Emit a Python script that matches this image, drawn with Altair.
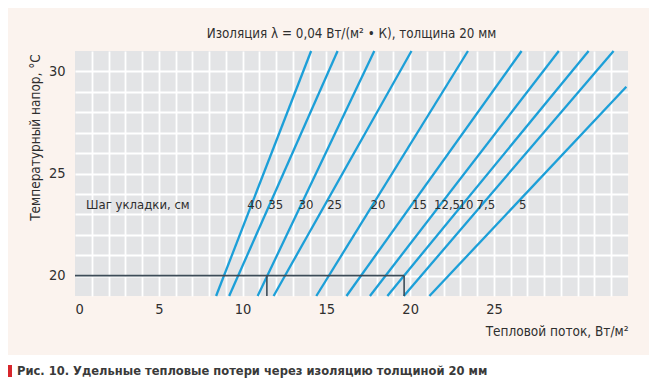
import altair as alt
import pandas as pd

# --- data ---
spacing = ["40", "35", "30", "25", "20", "15", "12,5", "10", "7,5", "5"]
q_bottom = [8.42, 9.2, 10.9, 11.85, 14.4, 16.2, 17.6, 18.64, 19.62, 21.15]
t_bottom = [19, 19, 19, 19, 19, 19, 19, 19, 19, 19]
q_top = [14.09, 15.67, 17.86, 20.08, 23.45, 26.65, 28.87, 30.65, 32.14, 32.9]
t_top = [31, 31, 31, 31, 31, 31, 31, 31, 31, 29.25]
label_q = [10.72, 11.98, 13.78, 15.49, 18.08, 20.56, 22.2, 23.33, 24.52, 26.71]
label_t = 23.46
legend_q = 0.66
legend_text = "Шаг укладки, см"
example_t = 20
example_q = [11.45, 19.64]
x_ticks = list(range(0, 33))
y_ticks = list(range(20, 31))

title_text = "Изоляция λ = 0,04 Вт/(м² • К), толщина 20 мм"
x_title = "Тепловой поток, Вт/м²"
y_title = "Температурный напор, °С"
caption = "Рис. 10. Удельные тепловые потери через изоляцию толщиной 20 мм"

FONT = "Liberation Sans Narrow, DejaVu Sans Condensed, Roboto Condensed, Arial Narrow, sans-serif"
TXT = "#2f2f2f"
BLUE = "#1c9fd8"
DARK = "#3d4c58"

lines_df = pd.DataFrame({
    "spacing": spacing + spacing,
    "q": q_bottom + q_top,
    "t": t_bottom + t_top,
    "ord": [0] * 10 + [1] * 10,
})
labels_df = pd.DataFrame({"lab": spacing, "q": label_q, "t": [label_t] * 10})
legend_df = pd.DataFrame({"lab": [legend_text], "q": [legend_q], "t": [label_t]})
hline_df = pd.DataFrame({"q": [0], "q1": [example_q[1]], "t": [example_t]})
vline_df = pd.DataFrame({"q": example_q, "t": [19, 19], "t1": [example_t, example_t]})
one = pd.DataFrame({"c": [caption]})

xs = alt.Scale(domain=[0, 33], nice=False, zero=False)
ys = alt.Scale(domain=[19, 31], nice=False, zero=False)

x_axis = alt.Axis(
    values=x_ticks,
    labelExpr="datum.value % 5 === 0 && datum.value < 30 ? datum.label : ''",
    labelOverlap=False,
    gridOpacity={"condition": {"test": "datum.value === 0", "value": 0}, "value": 1},
    title=x_title, titleX=553, titleY=35, titleAlign="right", titleBaseline="middle",
    titleAnchor="end",
    labelPadding=6,
)
y_axis = alt.Axis(
    values=y_ticks,
    labelExpr="datum.value % 5 === 0 ? datum.label : ''",
    labelOverlap=False,
    title=y_title, titleX=-40, titleY=86, titleAngle=270, titleAlign="center",
    titleBaseline="middle", labelPadding=10,
)

X = alt.X("q:Q", scale=xs, axis=x_axis)
Y = alt.Y("t:Q", scale=ys, axis=y_axis)

lines = alt.Chart(lines_df).mark_line(color=BLUE, strokeWidth=2.3).encode(
    x=X, y=Y, detail="spacing:N", order="ord:Q",
)

hline = alt.Chart(hline_df).mark_rule(color=DARK, strokeWidth=1.6).encode(
    x=X, x2="q1:Q", y=Y
)
vline = alt.Chart(vline_df).mark_rule(color=DARK, strokeWidth=1.6).encode(
    x=X, y=Y, y2="t1:Q"
)

labels = alt.Chart(labels_df).mark_text(
    font=FONT, fontSize=13, color=TXT, baseline="middle", align="center"
).encode(x=X, y=Y, text="lab:N")

legend = alt.Chart(legend_df).mark_text(
    font=FONT, fontSize=13, color=TXT, baseline="middle", align="left"
).encode(x=X, y=Y, text="lab:N")

white = alt.Chart(one).mark_rect(color="white").encode(
    x=alt.value(-67), x2=alt.value(574), y=alt.value(304), y2=alt.value(327)
)
redbar = alt.Chart(one).mark_rect(color="#d7262c").encode(
    x=alt.value(-67), x2=alt.value(-63), y=alt.value(314), y2=alt.value(326)
)
cap = alt.Chart(one).mark_text(
    font=FONT, fontSize=12.8, fontWeight="bold", color="#3a3a3a",
    align="left", baseline="middle",
).encode(x=alt.value(-58), y=alt.value(320), text="c:N")

chart = alt.layer(
    lines, hline, vline, labels, legend, white, redbar, cap
).properties(
    width=553,
    height=245,
    padding={"left": 67, "top": 43, "right": 21, "bottom": 82},
    autosize=alt.AutoSizeParams(type="none"),
    background="#fbf3ee",
    title=alt.TitleParams(
        text=title_text, font=FONT, fontSize=13.3, fontWeight="normal",
        color=TXT, anchor="middle", offset=6,
    ),
).configure_view(
    fill="#e3e4e6", stroke=None
).configure_axis(
    grid=True, gridColor="white", gridWidth=1.8, domain=False, ticks=False,
    labelFont=FONT, labelFontSize=14.5, labelColor=TXT,
    titleFont=FONT, titleFontSize=13.5, titleColor=TXT, titleFontWeight="normal",
)

chart.save("out.html", embed_options={"renderer": "svg", "actions": False})
